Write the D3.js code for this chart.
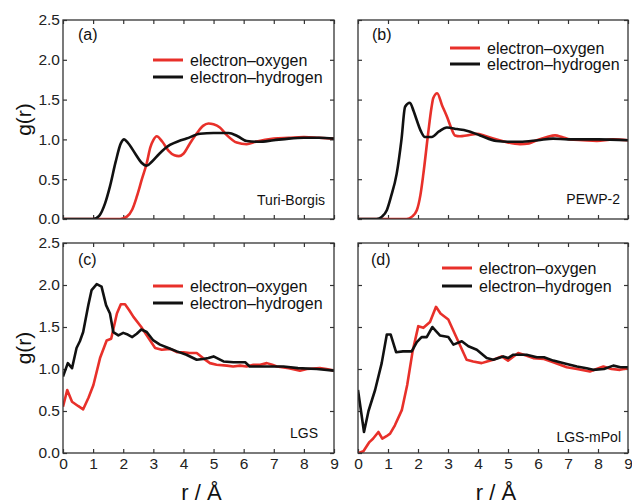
<!DOCTYPE html>
<html>
<head>
<meta charset="utf-8">
<script src="https://cdn.jsdelivr.net/npm/d3@7"></script>
<style>
  body { margin: 0; background: #fff; }
  svg { display: block; font-family: "Liberation Sans", Arial, Helvetica, sans-serif; }
  .frame { fill: none; stroke: #333; stroke-width: 1.3; }
  .axis path { display: none; }
  .axis line { stroke: #333; stroke-width: 1.2; }
  .axis text { font-size: 15.5px; fill: #222; }
  .line { fill: none; stroke-width: 2.6; stroke-linejoin: round; }
</style>
</head>
<body>
<div id="chart"></div>
<script>
// data: [r (Å), g(r)]
const tbOxygen = [[0,0],[1.9,0],[2.12,0.03],[2.3,0.12],[2.45,0.28],[2.62,0.5],[2.78,0.70],[2.9,0.9],[3.0,0.99],[3.11,1.04],[3.3,0.97],[3.5,0.86],[3.7,0.80],[3.85,0.79],[4.0,0.82],[4.2,0.94],[4.45,1.08],[4.65,1.17],[4.83,1.20],[5.0,1.19],[5.21,1.15],[5.45,1.05],[5.77,0.96],[6.1,0.94],[6.4,0.97],[7.0,1.01],[7.5,1.02],[8.0,1.03],[8.5,1.02],[9,1.01]];
const tbHydrogen = [[0,0],[1.0,0],[1.2,0.04],[1.4,0.2],[1.56,0.41],[1.75,0.72],[1.92,0.95],[2.03,1.0],[2.15,0.96],[2.4,0.82],[2.6,0.71],[2.78,0.67],[2.95,0.72],[3.2,0.82],[3.55,0.93],[3.85,0.98],[4.1,1.01],[4.55,1.07],[5.0,1.08],[5.5,1.08],[5.8,1.04],[6.1,0.98],[6.5,0.97],[7.0,0.99],[7.5,1.01],[8.0,1.02],[8.5,1.02],[9,1.01]];

const pewpOxygen = [[0,0],[1.62,0],[1.8,0.03],[1.96,0.11],[2.08,0.3],[2.18,0.57],[2.34,1.08],[2.45,1.4],[2.51,1.52],[2.64,1.58],[2.8,1.43],[2.96,1.29],[3.1,1.15],[3.23,1.05],[3.4,1.04],[3.62,1.05],[3.96,1.07],[4.2,1.05],[4.51,1.01],[4.9,0.97],[5.4,0.94],[5.7,0.95],[5.96,0.99],[6.3,1.03],[6.57,1.05],[6.8,1.03],[7.07,1.0],[7.5,0.99],[7.96,0.98],[8.5,1.0],[9,0.99]];
const pewpHydrogen = [[0,0],[0.62,0],[0.8,0.03],[0.96,0.11],[1.1,0.28],[1.29,0.57],[1.45,1.0],[1.57,1.41],[1.73,1.46],[1.85,1.36],[1.96,1.24],[2.1,1.1],[2.23,1.03],[2.46,1.03],[2.7,1.1],[2.96,1.15],[3.3,1.13],[3.62,1.11],[4.07,1.05],[4.62,0.98],[5.0,0.97],[5.4,0.97],[6.0,0.99],[6.5,1.01],[7.0,1.0],[8.0,1.0],[9,0.99]];

const lgsOxygen = [[0,0.55],[0.14,0.75],[0.3,0.61],[0.5,0.56],[0.67,0.52],[0.85,0.66],[1.01,0.81],[1.23,1.13],[1.45,1.34],[1.6,1.36],[1.79,1.66],[1.92,1.77],[2.06,1.77],[2.2,1.70],[2.34,1.62],[2.6,1.50],[2.78,1.40],[3.06,1.25],[3.28,1.23],[3.56,1.24],[3.8,1.20],[4.0,1.20],[4.2,1.19],[4.44,1.19],[4.65,1.13],[4.88,1.07],[5.1,1.05],[5.44,1.04],[5.65,1.03],[5.88,1.04],[6.1,1.03],[6.32,1.05],[6.55,1.05],[6.77,1.07],[6.95,1.05],[7.1,1.03],[7.5,1.01],[7.87,0.98],[8.1,1.0],[8.53,1.01],[8.75,1.0],[9,0.98]];
const lgsHydrogen = [[0,0.91],[0.16,1.07],[0.3,1.01],[0.45,1.25],[0.56,1.33],[0.67,1.44],[0.84,1.76],[0.95,1.94],[1.12,2.01],[1.28,1.98],[1.43,1.76],[1.56,1.66],[1.67,1.44],[1.84,1.40],[2.0,1.43],[2.15,1.41],[2.3,1.38],[2.45,1.42],[2.6,1.47],[2.78,1.44],[3.0,1.34],[3.22,1.29],[3.5,1.25],[3.78,1.21],[4.1,1.17],[4.44,1.11],[4.65,1.12],[4.83,1.13],[5.0,1.15],[5.33,1.09],[5.66,1.08],[6.05,1.08],[6.2,1.03],[6.8,1.03],[7.32,1.03],[7.8,1.01],[8.43,1.0],[9,0.98]];

const mpolOxygen = [[0,0],[0.18,0.02],[0.38,0.13],[0.5,0.17],[0.68,0.25],[0.81,0.17],[0.95,0.2],[1.07,0.23],[1.23,0.33],[1.46,0.51],[1.64,0.81],[1.82,1.21],[2.01,1.51],[2.18,1.49],[2.4,1.56],[2.6,1.74],[2.75,1.66],[3.01,1.59],[3.29,1.37],[3.62,1.11],[3.84,1.09],[4.12,1.07],[4.3,1.09],[4.51,1.11],[4.79,1.15],[5.0,1.10],[5.34,1.19],[5.6,1.16],[5.84,1.13],[6.2,1.12],[6.51,1.08],[6.96,1.02],[7.3,1.0],[7.73,0.97],[7.95,1.0],[8.18,1.03],[8.45,1.0],[8.73,0.99],[9,1.01]];
const mpolHydrogen = [[0,0.75],[0.2,0.25],[0.35,0.5],[0.57,0.75],[0.79,1.07],[0.96,1.41],[1.09,1.41],[1.27,1.2],[1.5,1.21],[1.79,1.21],[1.96,1.32],[2.12,1.38],[2.29,1.38],[2.48,1.5],[2.6,1.45],[2.73,1.40],[3.01,1.38],[3.18,1.29],[3.46,1.33],[3.68,1.27],[3.96,1.23],[4.29,1.13],[4.51,1.11],[4.84,1.15],[5.0,1.13],[5.18,1.17],[5.62,1.17],[5.96,1.14],[6.2,1.14],[6.51,1.10],[6.96,1.06],[7.3,1.03],[7.62,1.01],[7.84,0.99],[8.2,1.0],[8.51,1.04],[8.75,1.02],[9,1.02]];

const xTicks = [0, 1, 2, 3, 4, 5, 6, 7, 8, 9];
const yTicks = [0, 0.5, 1.0, 1.5, 2.0, 2.5];
const seriesNames = ['electron\u2013oxygen', 'electron\u2013hydrogen'];
const seriesColors = ['#e8302a', '#111'];

const width = 632;
const height = 504;

// panel layout
const panels = [
  { id: 'a', tag: '(a)', model: 'Turi-Borgis', oxy: tbOxygen, hyd: tbHydrogen, smooth: true,
    x: 63, y: 20, w: 271, h: 199, yLabels: true, xLabels: false,
    leg: { x: 90, y: 40, dy: 17, len: 30 }, tagPos: [15, 20], modelPos: [262, 185] },
  { id: 'b', tag: '(b)', model: 'PEWP-2', oxy: pewpOxygen, hyd: pewpHydrogen, smooth: true,
    x: 358, y: 20, w: 270, h: 199, yLabels: false, xLabels: false,
    leg: { x: 92, y: 28, dy: 16, len: 30 }, tagPos: [14, 20], modelPos: [262, 184] },
  { id: 'c', tag: '(c)', model: 'LGS', oxy: lgsOxygen, hyd: lgsHydrogen, smooth: false,
    x: 63, y: 243, w: 271, h: 210, yLabels: true, xLabels: true,
    leg: { x: 90, y: 43, dy: 17, len: 30 }, tagPos: [15, 22], modelPos: [255, 195] },
  { id: 'd', tag: '(d)', model: 'LGS-mPol', oxy: mpolOxygen, hyd: mpolHydrogen, smooth: false,
    x: 358, y: 243, w: 270, h: 210, yLabels: false, xLabels: true,
    leg: { x: 84, y: 25, dy: 18, len: 30 }, tagPos: [13, 22], modelPos: [263, 199] }
];

const $svg = d3.select('#chart').append('svg')
  .attr('width', width)
  .attr('height', height);

function drawPanel(p) {
  const scaleX = d3.scaleLinear().domain([0, 9]).range([0, p.w]);
  const scaleY = d3.scaleLinear().domain([0, 2.5]).range([p.h, 0]);

  const $g = $svg.append('g')
    .attr('transform', `translate(${p.x}, ${p.y})`);

  $g.append('clipPath').attr('id', `clip-${p.id}`)
    .append('rect').attr('width', p.w).attr('height', p.h);

  // inward ticks on all four sides
  $g.append('g').attr('class', 'axis')
    .attr('transform', `translate(0, ${p.h})`)
    .call(d3.axisBottom(scaleX).tickValues(xTicks).tickSizeInner(-4).tickSizeOuter(0).tickPadding(5)
      .tickFormat(p.xLabels ? d3.format('d') : ''));
  $g.append('g').attr('class', 'axis')
    .call(d3.axisTop(scaleX).tickValues(xTicks).tickSizeInner(-4).tickSizeOuter(0).tickFormat(''));
  $g.append('g').attr('class', 'axis')
    .call(d3.axisLeft(scaleY).tickValues(yTicks).tickSizeInner(-4).tickSizeOuter(0).tickPadding(3)
      .tickFormat(p.yLabels ? d3.format('.1f') : ''));
  $g.append('g').attr('class', 'axis')
    .attr('transform', `translate(${p.w}, 0)`)
    .call(d3.axisRight(scaleY).tickValues(yTicks).tickSizeInner(-4).tickSizeOuter(0).tickFormat(''));

  const line = d3.line()
    .x(d => scaleX(d[0]))
    .y(d => scaleY(d[1]))
    .curve(p.smooth ? d3.curveMonotoneX : d3.curveLinear);

  const $vis = $g.append('g').attr('clip-path', `url(#clip-${p.id})`);
  $vis.append('path').datum(p.oxy)
    .attr('class', 'line')
    .attr('stroke', seriesColors[0])
    .attr('d', line);
  $vis.append('path').datum(p.hyd)
    .attr('class', 'line')
    .attr('stroke', seriesColors[1])
    .attr('d', line);

  $g.append('rect')
    .attr('class', 'frame')
    .attr('width', p.w)
    .attr('height', p.h);

  // legend
  const $leg = $g.append('g').attr('transform', `translate(${p.leg.x}, ${p.leg.y})`);
  seriesNames.forEach((name, i) => {
    $leg.append('line')
      .attr('x1', 0).attr('x2', p.leg.len)
      .attr('y1', i * p.leg.dy).attr('y2', i * p.leg.dy)
      .attr('stroke', seriesColors[i])
      .attr('stroke-width', 3);
    $leg.append('text')
      .attr('x', p.leg.len + 7)
      .attr('y', i * p.leg.dy)
      .attr('dy', '0.35em')
      .style('font-size', '16px')
      .attr('fill', '#111')
      .text(name);
  });

  $g.append('text')
    .attr('x', p.tagPos[0]).attr('y', p.tagPos[1])
    .style('font-size', '16px')
    .attr('fill', '#111')
    .text(p.tag);

  $g.append('text')
    .attr('x', p.modelPos[0]).attr('y', p.modelPos[1])
    .attr('text-anchor', 'end')
    .style('font-size', '14px')
    .attr('fill', '#111')
    .text(p.model);

  if (p.yLabels) {
    $svg.append('text')
      .attr('transform', `translate(31, ${p.y + p.h / 2}) rotate(-90)`)
      .attr('text-anchor', 'middle')
      .style('font-size', '21px')
      .attr('fill', '#111')
      .text('g(r)');
  }
  if (p.xLabels) {
    $svg.append('text')
      .attr('x', p.x + p.w / 2 + 3)
      .attr('y', 500)
      .attr('text-anchor', 'middle')
      .style('font-size', '22px')
      .attr('fill', '#111')
      .text('r / \u00C5');
  }
}

panels.forEach(drawPanel);
</script>
</body>
</html>
